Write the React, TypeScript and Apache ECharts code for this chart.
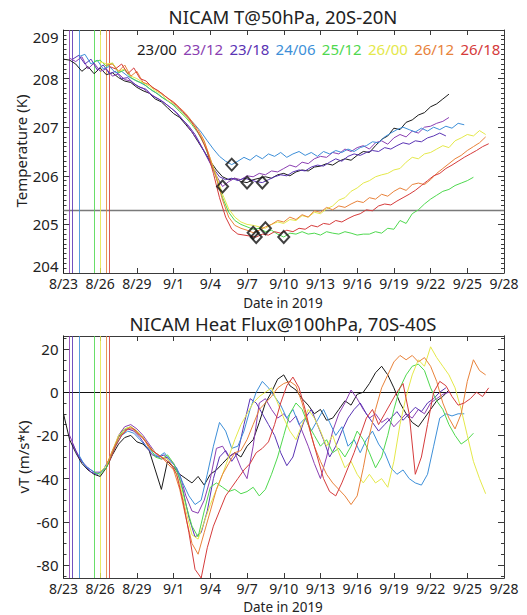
import React, { useEffect, useRef } from "react";
import * as echarts from "echarts";

const FONT = "'Noto Sans', 'DejaVu Sans', sans-serif";

// Forecast runs (init day/hour in Aug 2019)
const runNames = ["23/00", "23/12", "23/18", "24/06", "25/12", "26/00", "26/12", "26/18"];
const runColors = ["#1a1a1a", "#8b3fb2", "#5a34b4", "#3d8fd8", "#4fd84f", "#e4e84a", "#e8823a", "#d53b3b"];
// init times in days since 2019-08-23 00 UTC
const runInitDays = [0, 0.5, 0.75, 1.25, 2.5, 3, 3.5, 3.75];
const sampleStepDays = 0.5;

const dateTickLabels = ["8/23", "8/26", "8/29", "9/1", "9/4", "9/7", "9/10", "9/13", "9/16", "9/19", "9/22", "9/25", "9/28"];
const dayTickInterval = 3;
const dayMin = 0;
const dayMax = 36;

const tempReference = 205.3;
const fluxReference = 0;
const fluxMajorTicks = [-80, -60, -40, -20, 0, 20];
const fluxMinorTicks = [-85, -80, -75, -70, -65, -60, -55, -50, -45, -40, -35, -30, -25, -20, -15, -10, -5, 0, 5, 10, 15, 20, 25];

// Temperature @50hPa, 20S-20N (K), every 12 h from each init
const tempRun2300 = [208.40, 208.38, 208.30, 208.15, 208.25, 208.10, 208.22, 208.08, 208.12, 208.02, 207.95, 207.92, 207.82, 207.75, 207.70, 207.58, 207.52, 207.40, 207.28, 207.20, 207.05, 206.90, 206.70, 206.50,
  206.30, 206.12, 205.98, 205.92, 205.95, 205.88, 205.86, 205.92, 205.95, 205.98, 205.95, 206.02, 206.05, 206.00, 206.08, 206.12, 206.10, 206.18, 206.20, 206.25, 206.22, 206.30, 206.35, 206.32, 206.42, 206.50, 206.48, 206.62, 206.75, 206.82, 206.98, 206.95, 207.10, 207.15, 207.25, 207.30, 207.42, 207.48, 207.58, 207.68];
const tempRun2312 = [208.42, 208.35, 208.45, 208.20, 208.32, 208.15, 208.20, 208.05, 208.10, 207.98, 207.95, 207.85, 207.80, 207.70, 207.62, 207.55, 207.45, 207.35, 207.22, 207.08, 206.90, 206.72, 206.50,
  206.25, 206.00, 205.78, 205.88, 205.95, 205.92, 206.00, 205.98, 206.05, 206.02, 206.10, 206.08, 206.15, 206.22, 206.18, 206.28, 206.25, 206.35, 206.40, 206.38, 206.48, 206.45, 206.55, 206.50, 206.58, 206.62, 206.55, 206.68, 206.72, 206.65, 206.78, 206.85, 206.80, 206.92, 206.88, 207.00, 207.02, 207.08, 207.12, 207.20];
const tempRun2318 = [208.40, 208.48, 208.30, 208.40, 208.18, 208.28, 208.10, 208.15, 208.00, 208.02, 207.90, 207.82, 207.78, 207.65, 207.58, 207.50, 207.40, 207.30, 207.15, 207.02, 206.85, 206.62, 206.38,
  206.15, 205.98, 205.92, 205.95, 205.90, 205.95, 205.92, 205.88, 205.86, 205.92, 205.98, 206.02, 206.00, 206.08, 206.12, 206.10, 206.18, 206.22, 206.20, 206.28, 206.35, 206.30, 206.40, 206.45, 206.42, 206.48, 206.52, 206.50, 206.58, 206.55, 206.62, 206.68, 206.65, 206.72, 206.70, 206.78, 206.82, 206.88, 206.82];
const tempRun2406 = [208.45, 208.50, 208.30, 208.38, 208.20, 208.25, 208.12, 208.15, 208.05, 207.98, 207.92, 207.85, 207.75, 207.68, 207.58, 207.50, 207.42, 207.30, 207.18, 207.05, 206.90, 206.72,
  206.55, 206.40, 206.30, 206.23, 206.30, 206.38, 206.32, 206.42, 206.35, 206.45, 206.40, 206.48, 206.38, 206.45, 206.50, 206.42, 206.48, 206.40, 206.50, 206.45, 206.52, 206.48, 206.55, 206.50, 206.58, 206.62, 206.70, 206.68, 206.80, 206.88, 206.95, 207.00, 206.95, 206.90, 206.98, 206.92, 207.00, 206.95, 207.02, 206.98, 207.08, 207.05];
const tempRun2512 = [208.35, 208.38, 208.25, 208.32, 208.12, 208.18, 208.02, 207.95, 207.90, 207.80, 207.72, 207.62, 207.55, 207.45, 207.32, 207.20, 207.05, 206.88, 206.65,
  206.30, 205.95, 205.55, 205.25, 205.08, 205.00, 204.95, 204.90, 204.92, 204.85, 204.88, 204.80, 204.74, 204.82, 204.80, 204.85, 204.80, 204.82, 204.78, 204.85, 204.82, 204.80, 204.85, 204.82, 204.78, 204.80, 204.80, 204.85, 204.82, 204.92, 204.90, 205.08, 205.02, 205.22, 205.30, 205.42, 205.52, 205.60, 205.68, 205.72, 205.80, 205.85, 205.90, 205.97];
const tempRun2600 = [208.35, 208.30, 208.32, 208.15, 208.20, 208.05, 208.00, 207.92, 207.85, 207.75, 207.68, 207.55, 207.48, 207.35, 207.22, 207.08, 206.90, 206.70,
  206.35, 206.00, 205.62, 205.32, 205.15, 205.05, 205.00, 204.98, 204.95, 204.92, 205.00, 205.05, 205.02, 205.10, 205.08, 205.18, 205.15, 205.25, 205.22, 205.32, 205.38, 205.50, 205.55, 205.68, 205.75, 205.85, 205.90, 205.98, 206.02, 206.05, 206.12, 206.15, 206.28, 206.38, 206.35, 206.45, 206.48, 206.55, 206.62, 206.58, 206.72, 206.78, 206.85, 206.82, 206.93, 206.85];
const tempRun2612 = [208.28, 208.30, 208.15, 208.28, 208.05, 208.15, 207.92, 207.88, 207.78, 207.70, 207.60, 207.52, 207.40, 207.28, 207.12, 206.95, 206.72,
  206.35, 205.95, 205.50, 205.15, 204.98, 204.92, 204.88, 204.83, 204.88, 204.95, 205.00, 205.08, 205.05, 205.15, 205.10, 205.20, 205.15, 205.28, 205.25, 205.35, 205.30, 205.38, 205.35, 205.42, 205.48, 205.45, 205.55, 205.52, 205.62, 205.58, 205.68, 205.75, 205.70, 205.82, 205.85, 205.82, 205.92, 206.05, 206.15, 206.25, 206.35, 206.42, 206.52, 206.60, 206.68, 206.80];
const tempRun2618 = [208.25, 208.20, 208.30, 208.10, 208.22, 208.00, 207.95, 207.82, 207.75, 207.65, 207.55, 207.45, 207.32, 207.18, 207.00, 206.78, 206.50,
  206.05, 205.55, 205.15, 204.90, 204.80, 204.78, 204.76, 204.74, 204.80, 204.78, 204.85, 204.82, 204.88, 204.85, 204.92, 204.90, 204.98, 204.95, 205.02, 205.00, 205.08, 205.05, 205.12, 205.18, 205.22, 205.30, 205.28, 205.38, 205.42, 205.40, 205.48, 205.55, 205.62, 205.70, 205.80, 205.90, 206.00, 206.05, 206.15, 206.22, 206.30, 206.38, 206.45, 206.52, 206.60, 206.66];

// Heat flux vT @100hPa, 70S-40S (m/s*K), every 12 h from each init
const fluxRun2300 = [-10, -22, -28, -33, -36, -38, -39, -35, -29, -24, -21, -20, -23, -24, -27, -36, -45, -32, -35, -38, -40, -42, -39, -43,
  -38, -36, -33, -30, -28, -30, -25, -22, -14, -5, 0, 6, 8, 3, 1, -3, -6, -10, -8, -13, -12, -8, -4, -6, -1, 0, 4, 9, 12, 8, 2, -5, -10, -14, -16, -12, -8, -4, -2, 1];
const fluxRun2312 = [-20, -27, -32, -35, -37, -37, -34, -28, -20, -16, -15, -17, -20, -24, -28, -31, -30, -33, -38, -48, -55, -56, -50,
  -40, -26, -25, -30, -28, -35, -40, -25, -5, -3, -8, -12, -10, -14, -11, -18, -25, -33, -40, -30, -18, -10, -5, 1, -3, -8, -12, -10, -14, -12, -16, -13, -10, -12, -8, -10, -5, -3, -1, 0];
const fluxRun2318 = [-24, -30, -34, -37, -38, -36, -31, -24, -18, -17, -18, -21, -25, -29, -30, -29, -33, -36, -45, -58, -67, -65, -55,
  -40, -30, -27, -32, -28, -15, -3, -5, -10, -15, -20, -28, -34, -30, -20, -12, -8, -15, -22, -30, -25, -18, -12, -8, -5, -10, -14, -18, -15, -12, -9, -13, -10, -7, -9, -5, -3, 0, 2];
const fluxRun2406 = [-29, -34, -36, -38, -36, -31, -25, -20, -18, -19, -22, -25, -28, -30, -28, -32, -35, -42, -48, -52, -50, -38,
  -25, -14, -18, -26, -25, -18, -8, 0, 5, 2, -2, -6, -12, -8, -15, -12, -18, -13, -8, -14, -20, -16, -25, -22, -28, -22, -18, -24, -28, -35, -38, -36, -40, -42, -43, -38, -25, -12, -10, -11, -10, -10];
const fluxRun2512 = [-37, -38, -35, -28, -21, -17, -16, -18, -21, -25, -30, -31, -29, -33, -40, -52, -62, -67, -55,
  -44, -42, -44, -46, -45, -47, -46, -44, -48, -45, -38, -30, -20, -10, -5, -8, -15, -20, -25, -22, -28, -26, -30, -25, -18, -22, -28, -35, -30, -20, -8, 2, 8, 12, 13, 10, 2, -4, -8, -15, -20, -24, -22, -19];
const fluxRun2600 = [-37, -34, -27, -20, -17, -16, -18, -21, -25, -28, -30, -31, -35, -42, -55, -66, -68, -60,
  -52, -45, -38, -30, -22, -15, -10, -5, -2, 0, 2, -5, -12, -18, -22, -15, -8, -12, -18, -25, -20, -28, -35, -32, -38, -42, -38, -42, -40, -44, -32, -15, -2, 8, 15, 12, 21, 16, 12, 8, 2, -8, -20, -32, -40, -47];
const fluxRun2612 = [-34, -27, -21, -18, -16, -19, -21, -26, -28, -30, -33, -36, -45, -58, -70, -75, -65,
  -55, -45, -38, -33, -28, -27, -22, -15, -8, -5, -2, 2, 4, 5, 3, -5, -15, -25, -32, -38, -42, -45, -48, -52, -48, -35, -20, -8, 2, 8, 14, 17, 15, 17, 14, 16, 12, 5, -5, -12, -17, -10, 5, 15, 10, 8];
const fluxRun2618 = [-32, -25, -20, -17, -17, -20, -23, -27, -29, -31, -33, -38, -50, -65, -82, -86, -72,
  -62, -55, -48, -44, -40, -36, -33, -28, -26, -23, -15, -5, 3, 7, 2, -8, -20, -30, -40, -46, -48, -42, -35, -28, -20, -12, -8, -15, -10, -5, 0, 4, -10, -38, -30, -15, 0, 5, 3, -2, -6, -5, -3, 0, -2, 2];

const tempRuns = [tempRun2300, tempRun2312, tempRun2318, tempRun2406, tempRun2512, tempRun2600, tempRun2612, tempRun2618];
const fluxRuns = [fluxRun2300, fluxRun2312, fluxRun2318, fluxRun2406, fluxRun2512, fluxRun2600, fluxRun2612, fluxRun2618];

function toPoints(values: number[], init: number): number[][] {
  return values.map((v, i) => [init + i * sampleStepDays, v]);
}

function minPoint(values: number[], init: number): number[] {
  let k = 0;
  values.forEach((v, i) => { if (v < values[k]) k = i; });
  return [init + k * sampleStepDays, values[k]];
}

const AXIS_COLOR = "#3a3a3a";
const LABEL_COLOR = "#222";
const TICK_FONT = 14;

function xAxisDef(gridIndex: number, position: string, showLabel: boolean) {
  return {
    type: "value",
    gridIndex,
    position,
    min: dayMin,
    max: dayMax,
    interval: dayTickInterval,
    axisLine: { show: true, onZero: false, lineStyle: { color: AXIS_COLOR, width: 1 } },
    axisTick: { show: true, inside: true, length: 5, lineStyle: { color: AXIS_COLOR } },
    axisLabel: {
      show: showLabel,
      margin: 3,
      fontSize: TICK_FONT,
      lineHeight: 15,
      color: LABEL_COLOR,
      fontFamily: FONT,
      showMinLabel: true,
      showMaxLabel: true,
      formatter: (v: number) => dateTickLabels[Math.round((v - dayMin) / dayTickInterval)] ?? "",
    },
    splitLine: { show: false },
  };
}

function fluxYAxis(position: string, ticks: number[], tickLen: number, showLabel: boolean) {
  return {
    type: "value",
    gridIndex: 1,
    position,
    min: -86,
    max: 26,
    axisLine: { show: true, onZero: false, lineStyle: { color: AXIS_COLOR, width: 1 } },
    axisTick: { show: true, inside: true, length: tickLen, customValues: ticks, lineStyle: { color: AXIS_COLOR } },
    axisLabel: {
      show: showLabel,
      customValues: fluxMajorTicks,
      margin: 5,
      fontSize: 15,
      lineHeight: 15,
      color: LABEL_COLOR,
      fontFamily: FONT,
    },
    splitLine: { show: false },
  };
}

function tempYAxis(position: string, showLabel: boolean) {
  return {
    type: "value",
    gridIndex: 0,
    position,
    min: 204,
    max: 209,
    interval: 1,
    axisLine: { show: true, onZero: false, lineStyle: { color: AXIS_COLOR, width: 1 } },
    axisTick: { show: true, inside: true, length: 6, lineStyle: { color: AXIS_COLOR } },
    minorTick: { show: true, splitNumber: 10, length: 3, lineStyle: { color: AXIS_COLOR } },
    axisLabel: {
      show: showLabel,
      margin: 5,
      fontSize: 15,
      lineHeight: 14,
      color: LABEL_COLOR,
      fontFamily: FONT,
      verticalAlignMinLabel: "bottom",
      verticalAlignMaxLabel: "top",
    },
    splitLine: { show: false },
  };
}

export default function App() {
  const ref = useRef<HTMLDivElement>(null);

  useEffect(() => {
    if (!ref.current) return;
    const chart = echarts.init(ref.current, undefined, { renderer: "svg" });

    const series: any[] = [];
    runNames.forEach((name, i) => {
      const init = runInitDays[i];
      const color = runColors[i];
      const topMarks: any[] = [{ xAxis: init, lineStyle: { color, width: 1, type: "solid", opacity: 0.85 } }];
      const botMarks: any[] = [{ xAxis: init, lineStyle: { color, width: 1, type: "solid", opacity: 0.85 } }];
      if (i === 0) {
        topMarks.push({ yAxis: tempReference, lineStyle: { color: "#7a7a7a", width: 1.3, type: "solid" } });
        botMarks.push({ yAxis: fluxReference, lineStyle: { color: "#111", width: 1.1, type: "solid" } });
      }
      series.push({
        name: "T " + name,
        type: "line",
        xAxisIndex: 0,
        yAxisIndex: 0,
        data: toPoints(tempRuns[i], init),
        showSymbol: false,
        symbol: "none",
        lineStyle: { color, width: 1 },
        itemStyle: { color },
        z: 3,
        markLine: { silent: true, symbol: ["none", "none"], label: { show: false }, data: topMarks, z: 2 },
      });
      series.push({
        name: "vT " + name,
        type: "line",
        xAxisIndex: 2,
        yAxisIndex: 2,
        data: toPoints(fluxRuns[i], init),
        showSymbol: false,
        symbol: "none",
        lineStyle: { color, width: 1 },
        itemStyle: { color },
        z: 3,
        markLine: { silent: true, symbol: ["none", "none"], label: { show: false }, data: botMarks, z: 2 },
      });
    });

    series.push({
      name: "minimum",
      type: "scatter",
      xAxisIndex: 0,
      yAxisIndex: 0,
      data: tempRuns.map((vals, i) => minPoint(vals, runInitDays[i])),
      symbol: "diamond",
      symbolSize: [11, 12],
      itemStyle: { color: "rgba(255,255,255,0)", borderColor: "#111", borderWidth: 2 },
      z: 10,
    });

    const textStyleBase = { fontFamily: FONT, fill: LABEL_COLOR };
    const graphics: any[] = [
      { type: "text", x: 283, y: 16, style: { ...textStyleBase, text: "NICAM T@50hPa, 20S-20N", fontSize: 18.5, lineHeight: 19, align: "center", verticalAlign: "middle" } },
      { type: "text", x: 283, y: 323, style: { ...textStyleBase, text: "NICAM Heat Flux@100hPa, 70S-40S", fontSize: 18.5, lineHeight: 19, align: "center", verticalAlign: "middle" } },
      { type: "text", x: 283, y: 302.5, style: { ...textStyleBase, text: "Date in 2019", fontSize: 13.5, lineHeight: 14, align: "center", verticalAlign: "middle" } },
      { type: "text", x: 283, y: 606.5, style: { ...textStyleBase, text: "Date in 2019", fontSize: 13.5, lineHeight: 14, align: "center", verticalAlign: "middle" } },
      { type: "text", x: 21, y: 151, rotation: Math.PI / 2, style: { ...textStyleBase, text: "Temperature (K)", fontSize: 15, align: "center", verticalAlign: "middle" } },
      { type: "text", x: 23, y: 457, rotation: Math.PI / 2, style: { ...textStyleBase, text: "vT (m/s*K)", fontSize: 15, align: "center", verticalAlign: "middle" } },
    ];
    runNames.forEach((name, i) => {
      graphics.push({
        type: "text",
        x: 137 + i * 46.2,
        y: 48.5,
        style: { fontFamily: FONT, text: name, fontSize: 15, fill: runColors[i], align: "left", verticalAlign: "middle" },
      });
    });

    chart.setOption({
      animation: false,
      backgroundColor: "#ffffff",
      grid: [
        { left: 63.5, top: 30, width: 440.5, height: 243, containLabel: false },
        { left: 63.5, top: 336, width: 440.5, height: 242, containLabel: false },
      ],
      xAxis: [
        xAxisDef(0, "bottom", true),
        xAxisDef(0, "top", false),
        xAxisDef(1, "bottom", true),
        xAxisDef(1, "top", false),
      ],
      yAxis: [
        tempYAxis("left", true),
        tempYAxis("right", false),
        fluxYAxis("left", fluxMajorTicks, 6, true),
        fluxYAxis("left", fluxMinorTicks, 3, false),
        fluxYAxis("right", fluxMajorTicks, 6, false),
        fluxYAxis("right", fluxMinorTicks, 3, false),
      ],
      series,
      graphic: graphics,
    });

    return () => chart.dispose();
  }, []);

  return (
    <div
      ref={ref}
      style={{ position: "absolute", left: 0, top: 0, width: 527, height: 615, background: "#fff" }}
    />
  );
}
